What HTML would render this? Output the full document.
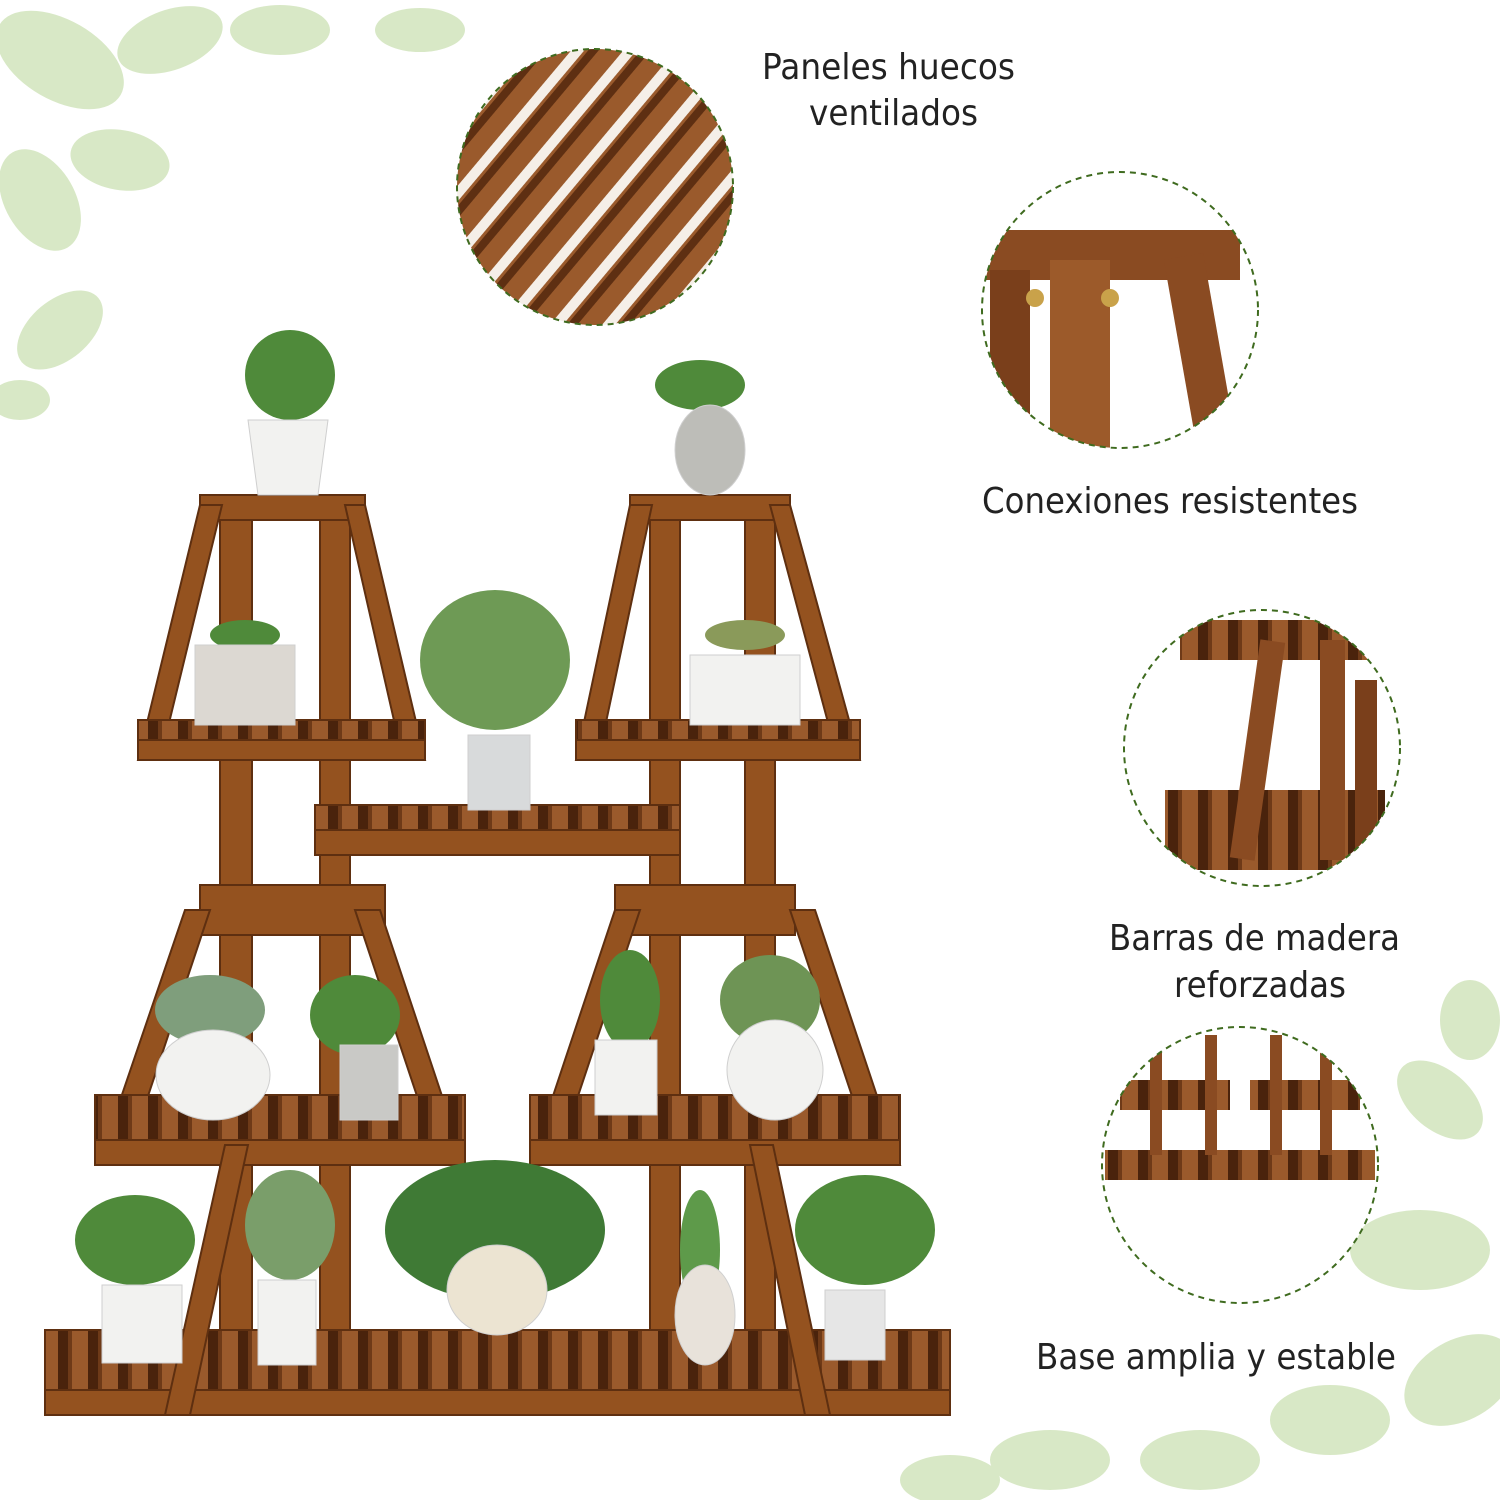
<!DOCTYPE html>
<html><head><meta charset="utf-8"><style>
html,body{margin:0;padding:0;background:#fff;}
svg{display:block;}
text{font-family:"DejaVu Sans","Liberation Sans",sans-serif;fill:#222;}
</style></head><body>
<svg width="1500" height="1500" viewBox="0 0 1500 1500" xmlns="http://www.w3.org/2000/svg">
<defs>
<pattern id="slat" width="30" height="30" patternUnits="userSpaceOnUse">
<rect width="30" height="30" fill="#4a230c"/><rect x="8" width="20" height="30" fill="#9a5a2c"/><rect x="8" width="4" height="30" fill="#6e3a18"/>
</pattern>
<pattern id="slatd" width="40" height="40" patternUnits="userSpaceOnUse" patternTransform="rotate(40)">
<rect width="40" height="40" fill="#f5efe8"/><rect width="30" height="40" fill="#9a5a2c"/><rect x="3" width="8" height="40" fill="#5e2f12"/>
</pattern>
<clipPath id="c1"><circle cx="595" cy="187" r="138"/></clipPath>
<clipPath id="c2"><circle cx="1120" cy="310" r="138"/></clipPath>
<clipPath id="c3"><circle cx="1262" cy="748" r="138"/></clipPath>
<clipPath id="c4"><circle cx="1240" cy="1165" r="138"/></clipPath>
</defs>

<g fill="#cfe3b8" opacity="0.8">
<ellipse cx="60" cy="60" rx="70" ry="40" transform="rotate(30 60 60)"/>
<ellipse cx="170" cy="40" rx="55" ry="30" transform="rotate(-20 170 40)"/>
<ellipse cx="40" cy="200" rx="55" ry="35" transform="rotate(60 40 200)"/>
<ellipse cx="120" cy="160" rx="50" ry="30" transform="rotate(10 120 160)"/>
<ellipse cx="280" cy="30" rx="50" ry="25"/>
<ellipse cx="60" cy="330" rx="50" ry="30" transform="rotate(-40 60 330)"/>
<ellipse cx="420" cy="30" rx="45" ry="22"/>
<ellipse cx="20" cy="400" rx="30" ry="20"/>
<ellipse cx="1440" cy="1100" rx="50" ry="30" transform="rotate(40 1440 1100)"/>
<ellipse cx="1420" cy="1250" rx="70" ry="40"/>
<ellipse cx="1460" cy="1380" rx="60" ry="40" transform="rotate(-30 1460 1380)"/>
<ellipse cx="1330" cy="1420" rx="60" ry="35"/>
<ellipse cx="1200" cy="1460" rx="60" ry="30"/>
<ellipse cx="1050" cy="1460" rx="60" ry="30"/>
<ellipse cx="950" cy="1480" rx="50" ry="25"/>
<ellipse cx="1470" cy="1020" rx="30" ry="40"/>
</g>

<g clip-path="url(#c1)"><rect x="450" y="40" width="300" height="300" fill="url(#slatd)"/></g>
<circle cx="595" cy="187" r="138" fill="none" stroke="#3f6b1f" stroke-width="2" stroke-dasharray="6,5"/>
<g clip-path="url(#c2)"><rect x="980" y="170" width="280" height="280" fill="#fff"/>
<rect x="980" y="230" width="260" height="50" fill="#8a4b22"/>
<rect x="1050" y="260" width="60" height="200" fill="#9c5a2a"/>
<rect x="990" y="270" width="40" height="190" fill="#7a3f1b"/>
<rect x="1180" y="255" width="40" height="200" fill="#8a4b22" transform="rotate(-10 1200 350)"/>
<circle cx="1035" cy="298" r="9" fill="#c9a24a"/><circle cx="1110" cy="298" r="9" fill="#c9a24a"/></g>
<circle cx="1120" cy="310" r="138" fill="none" stroke="#3f6b1f" stroke-width="2" stroke-dasharray="6,5"/>
<g clip-path="url(#c3)"><rect x="1120" y="610" width="290" height="280" fill="#fff"/>
<rect x="1180" y="620" width="220" height="40" fill="url(#slat)"/>
<rect x="1165" y="790" width="220" height="80" fill="url(#slat)"/>
<rect x="1245" y="640" width="25" height="220" fill="#8a4b22" transform="rotate(8 1257 750)"/>
<rect x="1320" y="640" width="25" height="220" fill="#8a4b22"/>
<rect x="1355" y="680" width="22" height="180" fill="#7a3f1b"/></g>
<circle cx="1262" cy="748" r="138" fill="none" stroke="#3f6b1f" stroke-width="2" stroke-dasharray="6,5"/>
<g clip-path="url(#c4)"><rect x="1100" y="1025" width="280" height="280" fill="#fff"/>
<rect x="1105" y="1150" width="270" height="30" fill="url(#slat)"/>
<rect x="1120" y="1080" width="110" height="30" fill="url(#slat)"/>
<rect x="1250" y="1080" width="110" height="30" fill="url(#slat)"/>
<rect x="1150" y="1035" width="12" height="120" fill="#8a4b22"/><rect x="1205" y="1035" width="12" height="120" fill="#8a4b22"/>
<rect x="1270" y="1035" width="12" height="120" fill="#8a4b22"/><rect x="1320" y="1035" width="12" height="120" fill="#8a4b22"/></g>
<circle cx="1240" cy="1165" r="138" fill="none" stroke="#3f6b1f" stroke-width="2" stroke-dasharray="6,5"/>

<g font-size="36">
<text x="762" y="79" textLength="253" lengthAdjust="spacingAndGlyphs">Paneles huecos</text>
<text x="809" y="125" textLength="169" lengthAdjust="spacingAndGlyphs">ventilados</text>
<text x="982" y="513" textLength="376" lengthAdjust="spacingAndGlyphs">Conexiones resistentes</text>
<text x="1109" y="950" textLength="291" lengthAdjust="spacingAndGlyphs">Barras de madera</text>
<text x="1174" y="997" textLength="172" lengthAdjust="spacingAndGlyphs">reforzadas</text>
<text x="1036" y="1369" textLength="360" lengthAdjust="spacingAndGlyphs">Base amplia y estable</text>
</g>

<g fill="#94521f" stroke="#5e2f10" stroke-width="2">
<rect x="220" y="500" width="32" height="915"/>
<rect x="320" y="500" width="30" height="915"/>
<rect x="650" y="500" width="30" height="915"/>
<rect x="745" y="500" width="30" height="915"/>
<rect x="45" y="1330" width="905" height="85" fill="url(#slat)"/>
<rect x="45" y="1390" width="905" height="25"/>
<rect x="315" y="805" width="365" height="50" fill="url(#slat)"/>
<rect x="315" y="830" width="365" height="25"/>
<rect x="200" y="495" width="165" height="25"/>
<polygon points="200,505 222,505 160,760 138,760"/>
<polygon points="345,505 365,505 425,760 403,760"/>
<rect x="138" y="720" width="287" height="40" fill="url(#slat)"/>
<rect x="138" y="740" width="287" height="20"/>
<rect x="630" y="495" width="160" height="25"/>
<polygon points="630,505 652,505 598,760 576,760"/>
<polygon points="770,505 790,505 860,760 838,760"/>
<rect x="576" y="720" width="284" height="40" fill="url(#slat)"/>
<rect x="576" y="740" width="284" height="20"/>
<rect x="200" y="885" width="185" height="50"/>
<polygon points="185,910 210,910 125,1165 98,1165"/>
<polygon points="355,910 380,910 465,1165 440,1165"/>
<rect x="95" y="1095" width="370" height="70" fill="url(#slat)"/>
<rect x="95" y="1140" width="370" height="25"/>
<rect x="615" y="885" width="180" height="50"/>
<polygon points="615,910 640,910 555,1165 530,1165"/>
<polygon points="790,910 815,910 900,1165 875,1165"/>
<rect x="530" y="1095" width="370" height="70" fill="url(#slat)"/>
<rect x="530" y="1140" width="370" height="25"/>
<polygon points="225,1145 248,1145 190,1415 165,1415"/>
<polygon points="750,1145 773,1145 830,1415 805,1415"/>
</g>

<g>
<g fill="#4f8a3a">
<ellipse cx="290" cy="375" rx="45" ry="45"/><ellipse cx="700" cy="385" rx="45" ry="25"/>
<ellipse cx="245" cy="635" rx="35" ry="15"/><ellipse cx="745" cy="635" rx="40" ry="15" fill="#8a9a5a"/>
<ellipse cx="495" cy="660" rx="75" ry="70" fill="#6e9a55"/>
<ellipse cx="210" cy="1010" rx="55" ry="35" fill="#7f9e7c"/><ellipse cx="355" cy="1015" rx="45" ry="40"/>
<ellipse cx="630" cy="1000" rx="30" ry="50"/><ellipse cx="770" cy="1000" rx="50" ry="45" fill="#6e9455"/>
<ellipse cx="135" cy="1240" rx="60" ry="45"/><ellipse cx="290" cy="1225" rx="45" ry="55" fill="#7a9e6a"/>
<ellipse cx="495" cy="1230" rx="110" ry="70" fill="#3f7a35"/><ellipse cx="700" cy="1250" rx="20" ry="60" fill="#5e9a4a"/>
<ellipse cx="865" cy="1230" rx="70" ry="55"/>
</g>
<g fill="#f2f2f0" stroke="#cfcfcf">
<path d="M248,420 L328,420 L318,495 L258,495 Z"/>
<ellipse cx="710" cy="450" rx="35" ry="45" fill="#bdbdb8"/>
<rect x="195" y="645" width="100" height="80" fill="#dcd8d2"/>
<rect x="690" y="655" width="110" height="70"/>
<rect x="468" y="735" width="62" height="75" fill="#d8dadb"/>
<ellipse cx="213" cy="1075" rx="57" ry="45"/>
<rect x="340" y="1045" width="58" height="75" fill="#c9c9c6"/>
<rect x="595" y="1040" width="62" height="75"/>
<ellipse cx="775" cy="1070" rx="48" ry="50"/>
<rect x="102" y="1285" width="80" height="78"/>
<rect x="258" y="1280" width="58" height="85"/>
<ellipse cx="497" cy="1290" rx="50" ry="45" fill="#ece4d2"/>
<ellipse cx="705" cy="1315" rx="30" ry="50" fill="#e8e2da"/>
<rect x="825" y="1290" width="60" height="70" fill="#e6e6e6"/>
</g>
</g>
</svg>
</body></html>
